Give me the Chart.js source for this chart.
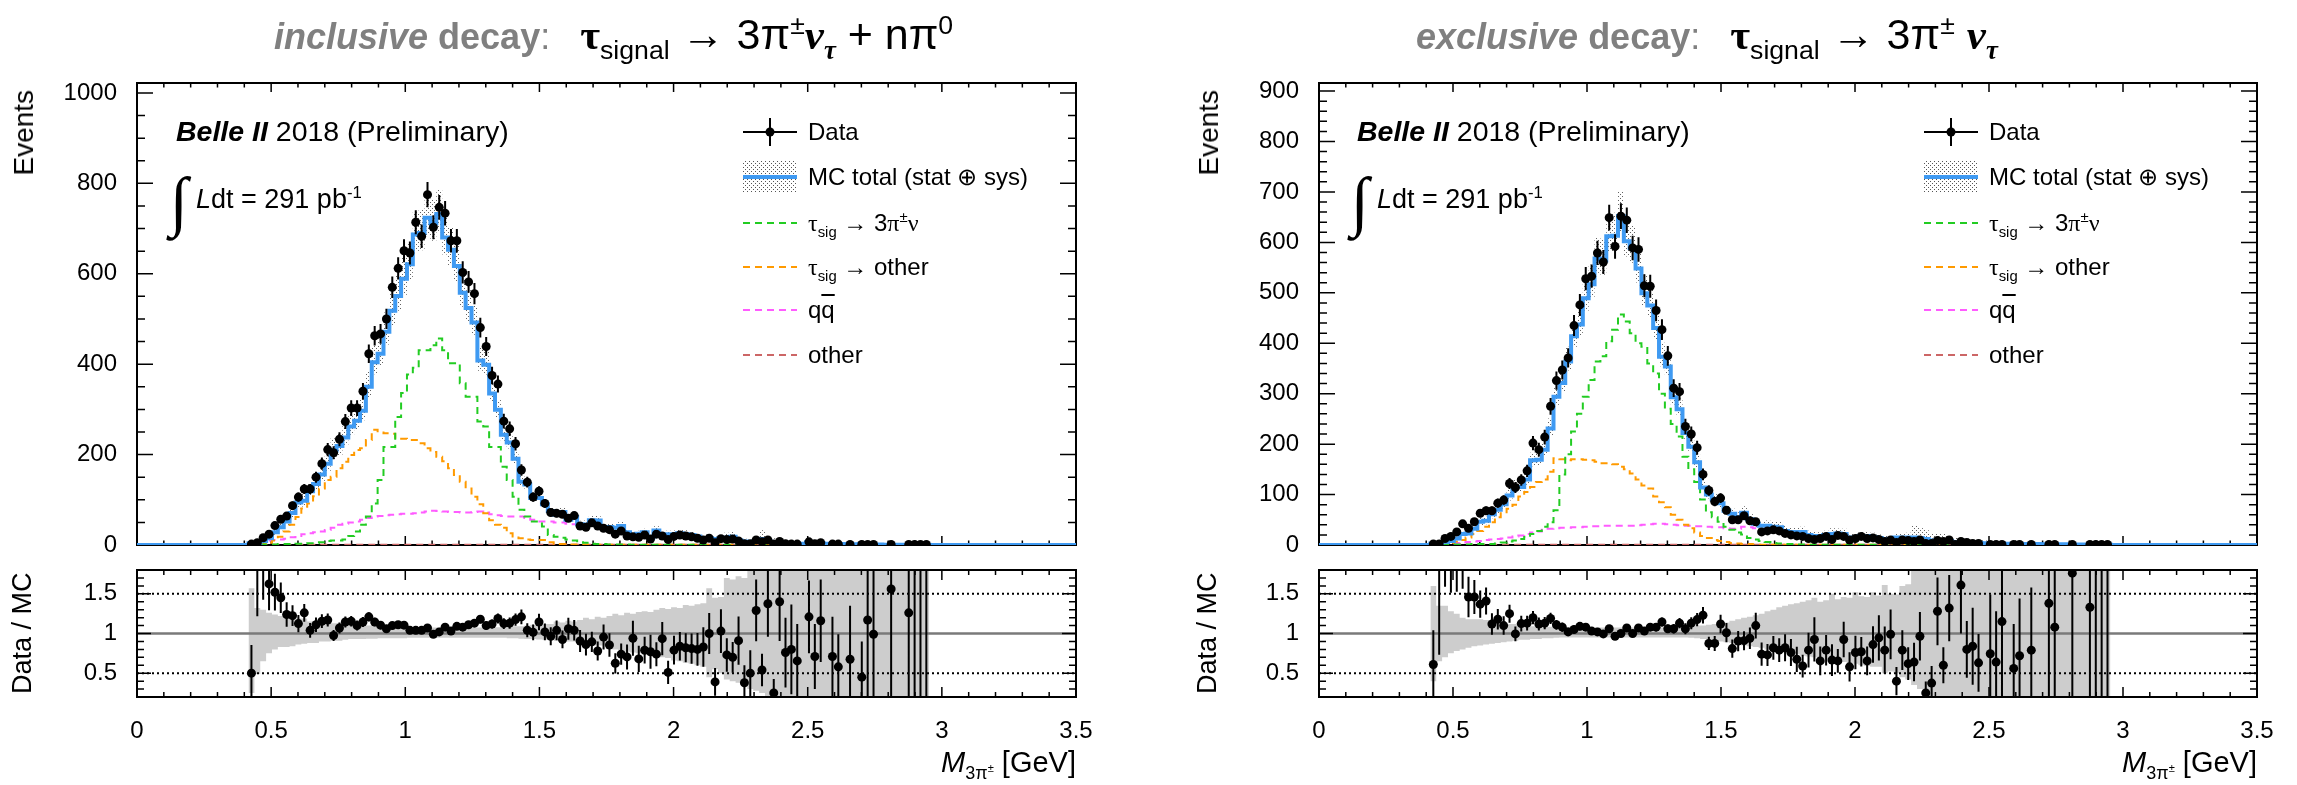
<!DOCTYPE html>
<html>
<head>
<meta charset="utf-8">
<title>M(3pi) inclusive / exclusive</title>
<script src="https://cdn.jsdelivr.net/npm/chart.js@4.4.1/dist/chart.umd.min.js"></script>
<style>
  html, body { margin: 0; padding: 0; background: #fff; }
  body { width: 2297px; height: 785px; position: relative; overflow: hidden;
         font-family: "Liberation Sans", Arial, Helvetica, sans-serif; color: #000; }
  canvas { position: absolute; }
  .t { position: absolute; white-space: nowrap; line-height: 1; }
  .title { font-size: 36px; }
  .formula { font-size: 43px; }
  .gray { color: #808080; }
  .serif { font-family: "Liberation Serif", "DejaVu Serif", serif; }
  .vlab { position: absolute; writing-mode: vertical-rl; transform: rotate(180deg);
          font-size: 28px; line-height: 1; white-space: nowrap; }
  .leg { position: absolute; height: 40px; display: flex; align-items: center;
         font-size: 24px; white-space: nowrap; }
  .leg svg { margin-right: 11px; flex: none; }
  sub, sup { font-size: 62%; line-height: 0; }
</style>
</head>
<body>

<canvas id="incMain" width="1150" height="580" style="left:0;top:0"></canvas>
<canvas id="incRatio" width="1150" height="250" style="left:0;top:535px"></canvas>
<canvas id="excMain" width="1147" height="580" style="left:1150px;top:0"></canvas>
<canvas id="excRatio" width="1147" height="250" style="left:1150px;top:535px"></canvas>

<!-- titles -->
<div class="t title" style="left:274px;top:13px"><span class="gray"><b><i>inclusive</i> decay</b>:</span><span style="display:inline-block;width:30px"></span><span class="formula"><b class="serif">τ</b><sub>signal</sub> → 3π<sup>±</sup><b class="serif"><i>ν<sub>τ</sub></i></b> + nπ<sup>0</sup></span></div>
<div class="t title" style="left:1416px;top:13px"><span class="gray"><b><i>exclusive</i> decay</b>:</span><span style="display:inline-block;width:30px"></span><span class="formula"><b class="serif">τ</b><sub>signal</sub> → 3π<sup>±</sup> <b class="serif"><i>ν<sub>τ</sub></i></b></span></div>

<!-- in-plot labels -->
<div class="t" style="left:176px;top:117px;font-size:28.5px"><b><i>Belle II</i></b> 2018 (Preliminary)</div>
<div class="t serif" style="left:170px;top:168px;font-size:66px;font-style:italic">∫</div>
<div class="t" style="left:196px;top:186px;font-size:27px"><i>L</i>dt = 291 pb<sup>-1</sup></div>

<div class="t" style="left:1357px;top:117px;font-size:28.5px"><b><i>Belle II</i></b> 2018 (Preliminary)</div>
<div class="t serif" style="left:1351px;top:168px;font-size:66px;font-style:italic">∫</div>
<div class="t" style="left:1377px;top:186px;font-size:27px"><i>L</i>dt = 291 pb<sup>-1</sup></div>

<!-- axis titles -->
<div class="vlab" style="left:10px;top:90px">Events</div>
<div class="vlab" style="left:1195px;top:90px">Events</div>
<div class="vlab" style="left:9px;top:563px;height:140px;text-align:center;font-size:27px">Data / MC</div>
<div class="vlab" style="left:1194px;top:563px;height:140px;text-align:center;font-size:27px">Data / MC</div>
<div class="t" style="left:1076px;top:748px;font-size:29px;transform:translateX(-100%)"><i>M</i><sub>3π<sup>±</sup></sub> [GeV]</div>
<div class="t" style="left:2257px;top:748px;font-size:29px;transform:translateX(-100%)"><i>M</i><sub>3π<sup>±</sup></sub> [GeV]</div>

<script>
// binning: 160 bins over 0 - 3.5 GeV, values listed for bins 19..134
const BIN_WIDTH = 3.5 / 160;
const FIRST_BIN = 19;

const xTicks = [0, 0.5, 1, 1.5, 2, 2.5, 3, 3.5];
const incYTicks = [0, 200, 400, 600, 800, 1000];
const excYTicks = [0, 100, 200, 300, 400, 500, 600, 700, 800, 900];
const ratioYTicks = [0.5, 1, 1.5];

// ---------- inclusive decay ----------
const incData = [
  2, 5, 16, 24, 43, 57, 64, 87, 106, 124,
  124, 150, 180, 211, 204, 234, 273, 303, 303, 340,
  423, 463, 467, 500, 570, 612, 651, 646, 714, 683,
  775, 703, 747, 734, 673, 673, 603, 582, 556, 481,
  439, 375, 356, 274, 257, 224, 166, 139, 106, 119,
  92, 72, 70, 68, 59, 65, 42, 39, 49, 42,
  37, 34, 24, 31, 20, 18, 17, 22, 13, 24,
  20, 12, 19, 22, 20, 18, 15, 11, 15, 5,
  14, 12, 13, 9, 3, 3, 11, 7, 11, 2,
  8, 3, 2, 2, null, 7, 3, 5, null, 2,
  2, null, 1, null, 1, 1, 1, null, null, 1,
  null, null, 1, 1, 1, 1
];
const incMC = [
  4, 3, 9, 15, 28, 39, 52, 71, 94, 98,
  119, 135, 156, 180, 209, 219, 238, 262, 275, 297,
  350, 404, 423, 472, 518, 551, 589, 621, 687, 690,
  724, 712, 732, 680, 653, 617, 558, 524, 492, 408,
  399, 335, 299, 244, 227, 191, 140, 134, 104, 104,
  90, 75, 67, 73, 56, 62, 46, 45, 55, 54,
  39, 40, 38, 42, 28, 19, 25, 28, 17, 32,
  21, 24, 24, 26, 24, 22, 19, 13, 15, 13,
  14, 16, 18, 10, 8, 6, 8.5, 13, 8, 6,
  6, 4, 3, 3, 3, 6, 4, 4, 2.5, 2.5,
  2, 2, 1.8, 1.6, 2.2, 1, 1, 1, 0.8, 0.7,
  0.7, 0.7, 0.8, 0.5, 0.5, 0.5
];
const incSig = [
  0, 0, 1, 1, 1, 2, 2, 2, 3, 3,
  4, 4, 6, 9, 10, 10, 12, 20, 30, 45,
  63, 92, 144, 217, 217, 283, 336, 377, 392, 431,
  431, 442, 457, 431, 402, 402, 358, 328, 328, 273,
  262, 217, 217, 173, 144, 107, 78, 63, 52, 52,
  41, 22, 18, 16, 12, 10, 6, 5, 3, 2,
  2, 1, 1, 1, 1, 0.5, 0.5, 0.5, 0.5, 0.5,
  0.5, 0.5, 0.5, 0.5, 0.5, 0.5, 0.5, 0.5, 0.5, 0.5,
  0.5, 0.5, 0.5, 0.5, 0.5, 0.5, 0.5, 0.5, 0.5, 0.5,
  0.5, 0.5, 0, 0, 0, 0, 0, 0, 0, 0,
  0, 0, 0, 0, 0, 0, 0, 0, 0, 0,
  0, 0, 0, 0, 0, 0
];
const incTauOther = [
  0, 1, 2, 5, 10, 18, 30, 45, 62, 81,
  92, 108, 125, 144, 151, 170, 184, 199, 210, 214,
  232, 255, 249, 247, 246, 235, 235, 232, 232, 225,
  214, 206, 195, 185, 170, 155, 140, 125, 107, 90,
  70, 55, 45, 38, 26, 19, 15, 12, 11, 11,
  11, 6, 2, 2, 1, 1, 1, 0.5, 0.5, 0.5,
  0.5, 0.5, 0.5, 0.5, 0.5, 0.5, 0.5, 0.5, 0.5, 0.5,
  0.5, 0.5, 0.5, 0.5, 0.5, 0.5, 0.5, 0.5, 0.5, 0.5,
  0.5, 0.5, 0.5, 0.5, 0.5, 0.5, 0.5, 0.5, 0.5, 0.5,
  0.5, 0.5, 0.5, 0.5, 0.5, 0.5, 0, 0, 0, 0,
  0, 0, 0, 0, 0, 0, 0, 0, 0, 0,
  0, 0, 0, 0, 0, 0
];
const incQQ = [
  2, 4, 7, 10, 11, 12, 14, 17, 20, 24,
  26, 28, 30, 33, 38, 45, 47, 50, 52, 56,
  60, 63, 64, 66, 67, 68, 69, 69, 70, 72,
  74, 76, 75, 74, 73, 73, 72, 72, 73, 74,
  72, 68, 66, 64, 63, 63, 63, 60, 56, 52,
  52, 52, 50, 50, 47, 46, 43, 42, 50, 48,
  37, 38, 36, 40, 28, 19, 25, 28, 17, 32,
  21, 24, 24, 26, 24, 22, 19, 13, 15, 13,
  14, 16, 18, 10, 8, 6, 8, 12, 8, 6,
  6, 4, 3, 3, 3, 6, 4, 4, 2.5, 2.5,
  2, 2, 1.8, 1.6, 2.2, 1, 1, 1, 0.8, 0.7,
  0.7, 0.7, 0.8, 0.5, 0.5, 0.5
];
const incOther = [
  0, 0, 0.5, 0.5, 0.5, 0.5, 0.5, 0.5, 0.5, 0.5,
  0.5, 0.5, 0.5, 0.5, 0.5, 0.5, 0.5, 0.5, 0.5, 0.5,
  0.5, 0.5, 0.5, 0.5, 0.5, 0.5, 0.5, 0.5, 0.5, 0.5,
  0.5, 0.5, 0.5, 0.5, 0.5, 0.5, 0.5, 0.5, 0.5, 0.5,
  0.5, 0.5, 0.5, 0.5, 0.5, 0.5, 0.5, 0.5, 0.5, 0.5,
  0.5, 0.5, 0.5, 0.5, 0.5, 0.5, 0.5, 0.5, 0.5, 0.5,
  0.5, 0.5, 0.5, 0.5, 0.5, 0.5, 0.5, 0.5, 0.5, 0.5,
  0.5, 0.5, 0.5, 0.5, 0.5, 0.5, 0.5, 0.5, 0.5, 0.5,
  0.5, 0.5, 0.5, 0.5, 0.5, 0.5, 0.5, 0.5, 0.5, 0.5,
  0.5, 0.5, 0.5, 0.5, 0.5, 0.5, 0.5, 0.5, 0.5, 0.5,
  0.5, 0.5, 0.5, 0.5, 0.5, 0, 0, 0, 0, 0,
  0, 0, 0, 0, 0, 0
];
const incRatio = [
  0.50, 2.2, 1.9, 1.625, 1.52, 1.45, 1.24, 1.225, 1.125, 1.26,
  1.04, 1.11, 1.155, 1.17, 0.975, 1.07, 1.145, 1.155, 1.10, 1.145,
  1.21, 1.145, 1.105, 1.06, 1.10, 1.11, 1.105, 1.04, 1.04, 1.04,
  1.07, 0.99, 1.02, 1.08, 1.03, 1.09, 1.08, 1.11, 1.13, 1.18,
  1.10, 1.12, 1.19, 1.125, 1.13, 1.175, 1.21, 1.04, 1.015, 1.145,
  1.02, 0.965, 1.04, 0.925, 1.06, 1.04, 0.905, 0.86, 0.895, 0.78,
  0.955, 0.855, 0.625, 0.74, 0.705, 0.94, 0.68, 0.79, 0.77, 0.74,
  0.935, 0.51, 0.79, 0.84, 0.82, 0.81, 0.80, 0.83, 1.0, 0.39,
  1.03, 0.73, 0.70, 0.91, 0.38, 0.50, 1.29, 0.54, 1.375, 0.25,
  1.40, 0.76, 0.80, 0.655, null, 1.21, 0.71, 1.16, null, 0.71,
  0.58, null, 0.675, null, 0.45, 1.17, 0.99, null, null, 1.56,
  null, null, 1.26, 2.5, 2.5, 2.5
];
// relative MC uncertainty (upper / lower edge of the band)
const incBandUp = [
  1.57, 1.32, 1.30, 1.26, 1.24, 1.22, 1.19, 1.19, 1.19, 1.19,
  1.15, 1.15, 1.15, 1.14, 1.13, 1.13, 1.12, 1.11, 1.10, 1.10,
  1.10, 1.09, 1.09, 1.09, 1.08, 1.08, 1.08, 1.075, 1.075, 1.075,
  1.075, 1.075, 1.075, 1.075, 1.075, 1.075, 1.075, 1.075, 1.075, 1.075,
  1.075, 1.075, 1.08, 1.08, 1.085, 1.09, 1.09, 1.10, 1.11, 1.11,
  1.12, 1.12, 1.15, 1.14, 1.16, 1.15, 1.17, 1.20, 1.18, 1.21,
  1.20, 1.22, 1.25, 1.23, 1.26, 1.25, 1.27, 1.28, 1.27, 1.30,
  1.32, 1.31, 1.33, 1.32, 1.36, 1.35, 1.37, 1.38, 1.57, 1.45,
  1.46, 1.70, 1.68, 1.72, 1.70, 1.80, 2.5, 2.5, 2.5, 2.5,
  2.5, 2.5, 2.5, 2.5, 2.5, 2.5, 2.5, 2.5, 2.5, 2.5,
  2.5, 2.5, 2.5, 2.5, 2.5, 2.5, 2.5, 2.5, 2.5, 2.5,
  2.5, 2.5, 2.5, 2.5, 2.5, 2.5
];
const incBandDown = [
  0.25, 0.49, 0.65, 0.75, 0.80, 0.83, 0.83, 0.84, 0.86, 0.87,
  0.88, 0.88, 0.90, 0.90, 0.91, 0.91, 0.92, 0.93, 0.93, 0.93,
  0.935, 0.935, 0.94, 0.94, 0.94, 0.94, 0.94, 0.945, 0.945, 0.945,
  0.945, 0.945, 0.945, 0.945, 0.945, 0.945, 0.945, 0.945, 0.945, 0.945,
  0.945, 0.945, 0.945, 0.945, 0.94, 0.94, 0.935, 0.93, 0.93, 0.925,
  0.92, 0.92, 0.91, 0.91, 0.90, 0.90, 0.89, 0.88, 0.86, 0.85,
  0.85, 0.83, 0.80, 0.79, 0.77, 0.76, 0.75, 0.73, 0.72, 0.71,
  0.70, 0.69, 0.66, 0.65, 0.63, 0.62, 0.60, 0.58, 0.45, 0.55,
  0.50, 0.42, 0.40, 0.38, 0.35, 0.30, 0.28, 0.25, 0, 0,
  0, 0, 0, 0, 0, 0, 0, 0, 0, 0,
  0, 0, 0, 0, 0, 0, 0, 0, 0, 0,
  0, 0, 0, 0, 0, 0
];

// ---------- exclusive decay ----------
const excData = [
  2, 2, 13, 17, 26, 42, 33, 46, 63, 68,
  68, 83, 89, 122, 114, 129, 147, 202, 189, 214,
  275, 326, 347, 371, 435, 476, 528, 533, 579, 561,
  649, 592, 652, 644, 589, 586, 514, 513, 465, 427,
  375, 311, 304, 235, 220, 193, 140, 108, 86, 93,
  69, 50, 50, 58, 48, 46, 26, 28, 30, 28,
  23, 20, 18, 17, 13, 11, 13, 17, 11, 19,
  17, 10, 13, 17, 13, 14, 11, 7, 10, 5,
  10, 9, 7, 10, 3, 3, 9, 7, 10, 1,
  7, 5, 3, 3, null, 1, 1, 1, null, 1,
  1, null, 1, null, null, 1, 1, null, null, 1,
  null, null, 1, 1, 1, 1
];
const excMC = [
  3, 1, 6, 8, 13, 22, 23, 32, 46, 48,
  61, 70, 81, 98, 115, 115, 130, 168, 169, 189,
  231, 294, 321, 364, 414, 437, 489, 517, 568, 564,
  612, 613, 652, 602, 589, 548, 499, 475, 430, 373,
  354, 293, 269, 222, 195, 164, 114, 100, 90, 83,
  68, 62, 55, 64, 51, 42, 38, 38, 36, 35,
  28, 26, 26, 26, 20, 18, 18, 20, 22, 23,
  22, 15, 15, 18, 18, 16, 14, 12, 12, 15,
  15, 15, 15, 14, 12, 9, 9, 9, 8, 6,
  5, 5, 4, 4, 3.5, 3, 3, 2.5, 2.5, 2.5,
  2, 2, 2, 1.8, 1.6, 1.5, 1.5, 1.4, 1.3, 1.2,
  1.1, 1, 1, 0.8, 0.8, 0.8
];
const excSig = [
  0, 0, 0.5, 1, 1, 1, 1, 2, 2, 2,
  2, 3, 5, 7, 9, 12, 16, 22, 28, 36,
  45, 69, 140, 180, 225, 260, 294, 327, 364, 374,
  404, 427, 457, 443, 420, 400, 393, 360, 340, 300,
  270, 240, 215, 175, 150, 125, 90, 65, 55, 46,
  36, 30, 25, 21, 14, 11, 8, 6, 4, 3,
  2, 2, 1, 1, 0.5, 0.5, 0.5, 0.5, 0.5, 0.5,
  0.5, 0.5, 0.5, 0.5, 0.5, 0.5, 0.5, 0.5, 0.5, 0.5,
  0.5, 0.5, 0.5, 0.5, 0.5, 0.5, 0.5, 0.5, 0.5, 0.5,
  0.5, 0.5, 0, 0, 0, 0, 0, 0, 0, 0,
  0, 0, 0, 0, 0, 0, 0, 0, 0, 0,
  0, 0, 0, 0, 0, 0
];
const excTauOther = [
  0, 1, 2, 4, 7, 10, 15, 22, 28, 36,
  45, 55, 65, 72, 80, 96, 105, 115, 125, 130,
  145, 172, 170, 168, 170, 170, 169, 168, 165, 162,
  162, 160, 155, 150, 142, 130, 118, 112, 96, 85,
  75, 60, 50, 40, 33, 25, 18, 14, 10, 8,
  6, 4, 3, 2, 2, 1, 0.5, 0.5, 0.5, 0.5,
  0.5, 0.5, 0.5, 0.5, 0.5, 0.5, 0.5, 0.5, 0.5, 0.5,
  0.5, 0.5, 0.5, 0.5, 0.5, 0.5, 0.5, 0.5, 0.5, 0.5,
  0.5, 0.5, 0.5, 0.5, 0.5, 0.5, 0.5, 0.5, 0.5, 0.5,
  0.5, 0.5, 0.5, 0.5, 0, 0, 0, 0, 0, 0,
  0, 0, 0, 0, 0, 0, 0, 0, 0, 0,
  0, 0, 0, 0, 0, 0
];
const excQQ = [
  1, 1.5, 2, 3, 4, 5, 6, 7, 8, 10,
  11, 12, 13, 15, 17, 19, 22, 25, 27, 30,
  32, 33, 34, 34, 35, 35, 36, 37, 37, 38,
  38, 38, 38, 38, 38, 39, 40, 41, 42, 42,
  41, 40, 39, 38, 38, 37, 37, 36, 35, 35,
  33, 32, 32, 36, 35, 33, 30, 32, 32, 31,
  26, 24, 25, 25, 20, 18, 18, 20, 22, 23,
  22, 15, 15, 18, 18, 16, 14, 12, 12, 15,
  15, 15, 15, 14, 12, 9, 9, 9, 8, 6,
  5, 5, 4, 4, 3.5, 3, 3, 2.5, 2.5, 2.5,
  2, 2, 2, 1.8, 1.6, 1.5, 1.5, 1.4, 1.3, 1.2,
  1.1, 1, 1, 0.8, 0.8, 0.8
];
const excOther = [
  0, 0, 0.5, 0.5, 0.5, 0.5, 0.5, 0.5, 0.5, 0.5,
  0.5, 0.5, 0.5, 0.5, 0.5, 0.5, 0.5, 0.5, 0.5, 0.5,
  0.5, 0.5, 0.5, 0.5, 0.5, 0.5, 0.5, 0.5, 0.5, 0.5,
  0.5, 0.5, 0.5, 0.5, 0.5, 0.5, 0.5, 0.5, 0.5, 0.5,
  0.5, 0.5, 0.5, 0.5, 0.5, 0.5, 0.5, 0.5, 0.5, 0.5,
  0.5, 0.5, 0.5, 0.5, 0.5, 0.5, 0.5, 0.5, 0.5, 0.5,
  0.5, 0.5, 0.5, 0.5, 0.5, 0.5, 0.5, 0.5, 0.5, 0.5,
  0.5, 0.5, 0.5, 0.5, 0.5, 0.5, 0.5, 0.5, 0.5, 0.5,
  0.5, 0.5, 0.5, 0.5, 0.5, 0.5, 0.5, 0.5, 0.5, 0.5,
  0.5, 0.5, 0.5, 0.5, 0.5, 0.5, 0.5, 0.5, 0.5, 0.5,
  0.5, 0.5, 0.5, 0.5, 0.5, 0, 0, 0, 0, 0,
  0, 0, 0, 0, 0, 0
];
const excRatio = [
  0.61, 2.5, 2.2, 2.0, 1.9, 1.85, 1.46, 1.46, 1.37, 1.41,
  1.12, 1.18, 1.10, 1.25, 0.995, 1.125, 1.13, 1.20, 1.12, 1.13,
  1.19, 1.11, 1.08, 1.02, 1.05, 1.09, 1.08, 1.03, 1.02, 0.995,
  1.06, 0.965, 1.0, 1.07, 1.0, 1.07, 1.03, 1.08, 1.08, 1.145,
  1.06, 1.06, 1.13, 1.06, 1.13, 1.175, 1.23, 0.875, 0.875, 1.12,
  1.01, 0.81, 0.905, 0.91, 0.94, 1.10, 0.74, 0.73, 0.82, 0.79,
  0.82, 0.76, 0.675, 0.59, 0.79, 0.925, 0.655, 0.79, 0.665, 0.655,
  0.925, 0.58, 0.76, 0.77, 0.655, 0.86, 0.945, 0.79, 0.99, 0.40,
  0.79, 0.62, 0.64, 0.965, 0.25, 0.375, 1.28, 0.60, 1.32, 0.1,
  1.61, 0.80, 0.84, 0.63, null, 0.745, 0.64, 1.15, null, 0.56,
  0.72, null, 0.79, null, null, 1.38, 1.08, null, null, 1.76,
  null, null, 1.33, 2.5, 2.5, 2.5
];
const excBandUp = [
  1.60, 1.35, 1.35, 1.28, 1.25, 1.20, 1.18, 1.18, 1.18, 1.17,
  1.14, 1.13, 1.13, 1.12, 1.12, 1.11, 1.10, 1.09, 1.09, 1.09,
  1.085, 1.08, 1.08, 1.08, 1.08, 1.08, 1.08, 1.075, 1.075, 1.075,
  1.075, 1.075, 1.075, 1.075, 1.075, 1.075, 1.075, 1.075, 1.075, 1.075,
  1.075, 1.075, 1.08, 1.09, 1.09, 1.10, 1.10, 1.11, 1.12, 1.13,
  1.14, 1.16, 1.18, 1.20, 1.21, 1.23, 1.25, 1.28, 1.30, 1.33,
  1.35, 1.37, 1.38, 1.40, 1.42, 1.45, 1.40, 1.42, 1.50, 1.43,
  1.46, 1.45, 1.52, 1.47, 1.46, 1.52, 1.48, 1.61, 1.50, 1.49,
  1.60, 1.62, 2.5, 2.5, 2.5, 2.5, 2.5, 2.5, 2.5, 2.5,
  2.5, 2.5, 2.5, 2.5, 2.5, 2.5, 2.5, 2.5, 2.5, 2.5,
  2.5, 2.5, 2.5, 2.5, 2.5, 2.5, 2.5, 2.5, 2.5, 2.5,
  2.5, 2.5, 2.5, 2.5, 2.5, 2.5
];
const excBandDown = [
  0.40, 0.65, 0.70, 0.75, 0.78, 0.80, 0.82, 0.84, 0.85, 0.86,
  0.87, 0.88, 0.89, 0.90, 0.91, 0.92, 0.92, 0.93, 0.93, 0.94,
  0.94, 0.945, 0.95, 0.95, 0.95, 0.95, 0.95, 0.95, 0.95, 0.95,
  0.95, 0.95, 0.95, 0.95, 0.95, 0.95, 0.95, 0.95, 0.95, 0.95,
  0.95, 0.95, 0.95, 0.95, 0.945, 0.94, 0.93, 0.92, 0.91, 0.90,
  0.89, 0.88, 0.86, 0.85, 0.84, 0.83, 0.82, 0.80, 0.78, 0.77,
  0.76, 0.75, 0.74, 0.72, 0.71, 0.70, 0.70, 0.68, 0.66, 0.65,
  0.64, 0.63, 0.62, 0.60, 0.59, 0.58, 0.58, 0.50, 0.52, 0.50,
  0.45, 0.42, 0.35, 0.30, 0, 0, 0, 0, 0, 0,
  0, 0, 0, 0, 0, 0, 0, 0, 0, 0,
  0, 0, 0, 0, 0, 0, 0, 0, 0, 0,
  0, 0, 0, 0, 0, 0
];

const FONT = '"Liberation Sans", Arial, Helvetica, sans-serif';
const MC_BLUE = '#3f9af2';
const COMPONENT_COLORS = ['#22cc22', '#ff9a00', '#ff5cff', '#cc6666'];

Chart.defaults.font.family = FONT;
Chart.defaults.color = '#000';

function edge(k) { return k * BIN_WIDTH; }

// step histogram as explicit bin edges
function histo(values, padToAxis) {
  const pts = [];
  if (padToAxis) pts.push({ x: 0, y: 0 }, { x: edge(FIRST_BIN), y: 0 });
  values.forEach((v, i) => {
    const k = FIRST_BIN + i;
    pts.push({ x: edge(k), y: v }, { x: edge(k + 1), y: v });
  });
  if (padToAxis) pts.push({ x: edge(FIRST_BIN + values.length), y: 0 }, { x: 3.5, y: 0 });
  return pts;
}

function markers(values, counts, relErr) {
  const pts = [], err = [];
  values.forEach((v, i) => {
    if (v === null || counts[i] === null) return;
    pts.push({ x: (FIRST_BIN + i + 0.5) * BIN_WIDTH, y: v });
    err.push(relErr ? v / Math.sqrt(counts[i]) : Math.sqrt(counts[i]));
  });
  return { pts, err };
}

function dotPattern() {
  const c = document.createElement('canvas');
  c.width = 4; c.height = 4;
  const g = c.getContext('2d');
  g.fillStyle = 'rgba(70,70,70,0.85)';
  g.fillRect(0, 0, 1, 1);
  g.fillRect(2, 2, 1, 1);
  return document.createElement('canvas').getContext('2d').createPattern(c, 'repeat');
}

function ticksAlong(min, max, minor, major) {
  const out = [];
  const first = Math.ceil(min / minor - 1e-6), last = Math.floor(max / minor + 1e-6);
  for (let i = first; i <= last; i++) {
    const v = i * minor, r = v / major;
    out.push([v, Math.abs(r - Math.round(r)) < 1e-6]);
  }
  return out;
}

// ROOT style frame with inward ticks on all four sides
function drawFrame(chart, o) {
  const { ctx, chartArea: a } = chart;
  const x = chart.scales.x, y = chart.scales.y;
  ctx.save();
  ctx.strokeStyle = '#000';
  ctx.lineWidth = 1.5;
  ctx.beginPath();
  ticksAlong(x.min, x.max, o.xMinor, o.xMajor).forEach(([v, major]) => {
    const px = x.getPixelForValue(v), len = major ? o.xMajorLen : o.xMinorLen;
    ctx.moveTo(px, a.bottom); ctx.lineTo(px, a.bottom - len);
    ctx.moveTo(px, a.top); ctx.lineTo(px, a.top + len);
  });
  ticksAlong(y.min, y.max, o.yMinor, o.yMajor).forEach(([v, major]) => {
    const py = y.getPixelForValue(v), len = major ? o.yMajorLen : o.yMinorLen;
    ctx.moveTo(a.left, py); ctx.lineTo(a.left + len, py);
    ctx.moveTo(a.right, py); ctx.lineTo(a.right - len, py);
  });
  ctx.stroke();
  ctx.lineWidth = 2;
  ctx.strokeRect(a.left, a.top, a.right - a.left, a.bottom - a.top);
  ctx.restore();
}

const frameTicks = {
  id: 'frameTicks',
  beforeDatasetsDraw(chart, args, o) { if (!o.front) drawFrame(chart, o); },
  afterDatasetsDraw(chart, args, o) { if (o.front) drawFrame(chart, o); }
};

const errorBars = {
  id: 'errorBars',
  beforeDatasetDraw(chart, args) {
    const ds = chart.data.datasets[args.index];
    if (!ds.yErr) return;
    const { ctx, chartArea: a } = chart;
    const y = chart.scales.y;
    ctx.save();
    ctx.beginPath();
    ctx.rect(a.left, a.top, a.right - a.left, a.bottom - a.top);
    ctx.clip();
    ctx.strokeStyle = '#000';
    ctx.lineWidth = 2;
    ctx.beginPath();
    args.meta.data.forEach((pt, j) => {
      const v = ds.data[j].y, e = ds.yErr[j];
      ctx.moveTo(pt.x, y.getPixelForValue(v - e));
      ctx.lineTo(pt.x, y.getPixelForValue(v + e));
    });
    ctx.stroke();
    ctx.restore();
  }
};

function yAxis(p, min, max, ticks) {
  return {
    type: 'linear', min: min, max: max,
    grid: { display: false }, border: { display: false },
    afterFit: s => { s.width = p.axisWidth; },
    afterBuildTicks: s => { s.ticks = ticks.map(v => ({ value: v })); },
    ticks: { color: '#000', padding: 12, font: { size: 24 }, callback: v => String(v) }
  };
}

function mainChart(id, p) {
  const dataPts = markers(p.data, p.data, false);
  const comps = [p.sig, p.tauOther, p.qq, p.other].map((vals, i) => ({
    data: histo(vals, false), borderColor: COMPONENT_COLORS[i], borderWidth: 2,
    borderDash: [7, 5], pointRadius: 0, fill: false, order: 2
  }));
  return new Chart(document.getElementById(id), {
    type: 'line',
    data: {
      datasets: [
        { data: dataPts.pts, yErr: dataPts.err, showLine: false, pointRadius: 4.5,
          pointBackgroundColor: '#000', pointBorderColor: '#000', pointBorderWidth: 0, order: 0 },
        { data: histo(p.mc, true), borderColor: MC_BLUE, borderWidth: 4, pointRadius: 0, fill: false, order: 1 },
        ...comps,
        { data: histo(p.mc.map((v, i) => v * p.up[i]), false), fill: '+1', backgroundColor: dotPattern(),
          borderColor: 'rgba(0,0,0,0)', borderWidth: 1, pointRadius: 0, order: 5 },
        { data: histo(p.mc.map((v, i) => v * p.down[i]), false), fill: false,
          borderColor: 'rgba(0,0,0,0)', borderWidth: 1, pointRadius: 0, order: 5 }
      ]
    },
    options: {
      responsive: false, animation: false, events: [],
      // chart area: y 83 .. 545 of the page
      layout: { padding: { left: 0, right: p.padRight, top: 83, bottom: 35 } },
      plugins: {
        legend: { display: false }, tooltip: { enabled: false },
        frameTicks: { front: false, xMajor: 0.5, xMinor: 0.1, xMajorLen: 9, xMinorLen: 4.5,
                      yMajor: p.yMajor, yMinor: p.yMinor, yMajorLen: 16, yMinorLen: 8 }
      },
      scales: {
        x: { type: 'linear', min: 0, max: 3.5, display: false },
        y: yAxis(p, 0, p.yMax, p.yTicks)
      }
    },
    plugins: [frameTicks, errorBars]
  });
}

function ratioChart(id, p) {
  const pts = markers(p.ratio, p.data, true);
  const flat = v => [{ x: 0, y: v }, { x: 3.5, y: v }];
  return new Chart(document.getElementById(id), {
    type: 'line',
    data: {
      datasets: [
        { data: pts.pts, yErr: pts.err, showLine: false, pointRadius: 4.5,
          pointBackgroundColor: '#000', pointBorderColor: '#000', pointBorderWidth: 0, order: 0 },
        { data: flat(1), borderColor: '#7a7a7a', borderWidth: 2.5, pointRadius: 0, order: 1 },
        { data: flat(0.5), borderColor: '#000', borderWidth: 2, borderDash: [2, 3], pointRadius: 0, order: 1 },
        { data: flat(1.5), borderColor: '#000', borderWidth: 2, borderDash: [2, 3], pointRadius: 0, order: 1 },
        { data: histo(p.up, false), fill: '+1', backgroundColor: '#cdcdcd',
          borderColor: 'rgba(0,0,0,0)', borderWidth: 1, pointRadius: 0, order: 5 },
        { data: histo(p.down, false), fill: false,
          borderColor: 'rgba(0,0,0,0)', borderWidth: 1, pointRadius: 0, order: 5 }
      ]
    },
    options: {
      responsive: false, animation: false, events: [],
      // chart area: y 570 .. 697 of the page
      layout: { padding: { left: 0, right: p.padRight, top: 35, bottom: 0 } },
      plugins: {
        legend: { display: false }, tooltip: { enabled: false },
        frameTicks: { front: true, xMajor: 0.5, xMinor: 0.1, xMajorLen: 10, xMinorLen: 5,
                      yMajor: 0.5, yMinor: 0.1, yMajorLen: 14, yMinorLen: 7 }
      },
      scales: {
        x: {
          type: 'linear', min: 0, max: 3.5,
          grid: { display: false }, border: { display: false },
          afterFit: s => { s.height = 88; },
          afterBuildTicks: s => { s.ticks = xTicks.map(v => ({ value: v })); },
          ticks: { color: '#000', padding: 12, autoSkip: false, maxRotation: 0,
                   font: { size: 24 }, callback: v => String(v) }
        },
        y: yAxis(p, 0.2, 1.8, ratioYTicks)
      }
    },
    plugins: [frameTicks, errorBars]
  });
}

const incPanel = {
  data: incData, mc: incMC, sig: incSig, tauOther: incTauOther, qq: incQQ, other: incOther,
  ratio: incRatio, up: incBandUp, down: incBandDown,
  yMax: 1022, yTicks: incYTicks, yMajor: 200, yMinor: 50, axisWidth: 137, padRight: 74
};
const excPanel = {
  data: excData, mc: excMC, sig: excSig, tauOther: excTauOther, qq: excQQ, other: excOther,
  ratio: excRatio, up: excBandUp, down: excBandDown,
  yMax: 916, yTicks: excYTicks, yMajor: 100, yMinor: 20, axisWidth: 169, padRight: 40
};

mainChart('incMain', incPanel);
ratioChart('incRatio', incPanel);
mainChart('excMain', excPanel);
ratioChart('excRatio', excPanel);

// legend (ROOT TLegend look)
const LEG_ROWS_Y = [132, 177, 223, 267, 310, 355];
function legendSymbol(kind, color, pid) {
  if (kind === 'data') {
    return '<svg width="54" height="36"><line x1="0" y1="18" x2="54" y2="18" stroke="#000" stroke-width="2"/>' +
           '<line x1="27" y1="4" x2="27" y2="32" stroke="#000" stroke-width="2"/><circle cx="27" cy="18" r="4.5" fill="#000"/></svg>';
  }
  if (kind === 'mc') {
    return '<svg width="54" height="36"><defs><pattern id="' + pid + '" width="4" height="4" patternUnits="userSpaceOnUse">' +
           '<rect x="0" y="0" width="1" height="1" fill="#555"/><rect x="2" y="2" width="1" height="1" fill="#555"/></pattern></defs>' +
           '<rect x="0" y="2" width="54" height="32" fill="url(#' + pid + ')"/>' +
           '<line x1="0" y1="18" x2="54" y2="18" stroke="' + MC_BLUE + '" stroke-width="4"/></svg>';
  }
  return '<svg width="54" height="36"><line x1="0" y1="18" x2="54" y2="18" stroke="' + color +
         '" stroke-width="2" stroke-dasharray="7 5"/></svg>';
}
function addLegend(x, pid) {
  const rows = [
    [legendSymbol('data'), 'Data'],
    [legendSymbol('mc', null, pid), 'MC total (stat ⊕ sys)'],
    [legendSymbol('line', COMPONENT_COLORS[0]), '<span class="serif">τ</span><sub>sig</sub> → 3<span class="serif">π</span><sup>±</sup><span class="serif">ν</span>'],
    [legendSymbol('line', COMPONENT_COLORS[1]), '<span class="serif">τ</span><sub>sig</sub> → other'],
    [legendSymbol('line', COMPONENT_COLORS[2]), 'q<span style="text-decoration:overline">q</span>'],
    [legendSymbol('line', COMPONENT_COLORS[3]), 'other']
  ];
  rows.forEach((r, i) => {
    const div = document.createElement('div');
    div.className = 'leg';
    div.style.left = x + 'px';
    div.style.top = (LEG_ROWS_Y[i] - 20) + 'px';
    div.innerHTML = r[0] + '<span>' + r[1] + '</span>';
    document.body.appendChild(div);
  });
}
addLegend(743, 'dotsL');
addLegend(1924, 'dotsR');
</script>
</body>
</html>
